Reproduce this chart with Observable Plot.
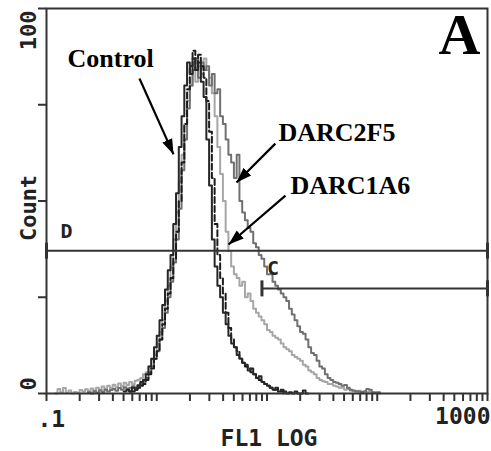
<!DOCTYPE html>
<html>
<head>
<meta charset="utf-8">
<script src="https://cdn.jsdelivr.net/npm/d3@7"></script>
<script src="https://cdn.jsdelivr.net/npm/@observablehq/plot@0.6"></script>
<style>
  html, body { margin: 0; padding: 0; background: #fff; }
</style>
</head>
<body>
<div id="chart"></div>
<script>
// FL1 histogram: 40 log channels per decade, 0.1 – 1000
const channelsPerDecade = 40;

// Control (solid black), counts from channel 28
const controlStart = 28;
const controlCounts = [
  0.5, 1, 0.5, 1.5, 1, 2, 3, 3.5, 5, 7, 9, 12, 15, 19, 23, 27, 32, 36, 44, 52,
  64, 72, 80, 86, 83, 87, 84, 86, 81, 77, 66, 54, 40, 33, 28, 25, 21, 18, 15, 13,
  12, 10, 9, 8, 7.5, 6, 6.5, 5, 4, 4.5, 3, 2.5, 2, 1.5, 1, 1.5, 0.5, 1, 0.5, 0,
  0.3, 0, 0.5, 0, 0, 0.8, 0, 0
];

// Second control (dashed black), counts from channel 30
const controlDashedStart = 30;
const controlDashedCounts = [
  0.5, 0.5, 1, 1.5, 2, 2.5, 3.5, 5, 6.5, 9, 11, 14, 18, 22, 26, 30, 35, 42, 50, 60,
  70, 79, 85, 89, 84, 88, 85, 82, 76, 68, 56, 44, 36, 30, 26, 21, 17, 14, 12, 11,
  9, 8, 7, 6.5, 5.5, 5, 4, 3.5, 3, 2.5, 2, 1.5, 1, 1, 0.5, 0.5, 0
];

// DARC2F5 (dark grey), counts from channel 15
const darc2f5Start = 15;
const darc2f5Counts = [
  0.3, 0, 0.6, 0.2, 0.8, 0.4, 1.0, 0.5, 0.9, 1.2, 0.7, 1.4, 1.0, 1.6, 1.2, 1.5, 1.9, 1.4, 2.2,
  2.5, 3, 4, 5.5, 7, 9, 11, 14, 17, 21, 25, 29, 34, 40, 48, 58, 66, 74, 80, 84,
  87, 82, 86, 84, 85, 80, 83, 78, 79, 72, 70, 66, 62, 60, 56, 62, 50, 47, 45, 43,
  42, 39, 38, 36, 35, 33, 31, 31, 29, 28, 27, 26, 25, 24, 22, 20.5, 19, 17.5, 16, 15.5,
  14, 12, 10.5, 10, 8.5, 7, 6.5, 5, 4, 3.5, 3, 2.8, 2.5, 2, 2.2, 1.5, 1, 0.8, 0.6,
  0.5, 0.4, 0.5, 1.2, 1.0, 0.3, 0.2, 0.3, 0
];

// DARC1A6 (light grey), counts from channel 3
const darc1a6Start = 3;
const darc1a6Counts = [
  0, 1.2, 0.3, 1.4, 0.2, 0.8, 0, 0.4, 0.2, 0.9, 0.5, 1.1, 0.6, 1.3, 0.8, 1.5, 1.0, 1.8,
  1.2, 2.0, 1.4, 2.3, 1.6, 2.6, 1.9, 2.8, 2.2, 3.0, 2.4, 3.3, 3.6,
  4, 5, 5.5, 7, 9, 10, 13, 16, 19, 24, 28, 33, 40, 47, 55, 62, 70, 76, 80, 84,
  81, 85, 83, 87, 84, 82, 78, 72, 64, 57, 50, 42, 37, 33, 31, 30, 28, 29, 25, 26,
  24, 22, 21, 20, 19, 18, 16.5, 16, 15, 14.5, 14, 13, 12, 11.5, 11, 10, 9.5, 9, 8.5, 7.5,
  7, 6, 5.5, 5, 4, 3.5, 3.2, 3, 2.5, 2.5, 2, 1.8, 1.5, 1.5, 1, 1.2, 0.8, 0.6,
  0.5, 0.7, 0.4, 0.5, 0.3, 0.5, 0.2, 0.3, 0
];

// Analysis gates (FL1 range and the count level they are drawn at)
const gates = [
  {name: "D", from: 0.1, to: 1000, level: 37.1},
  {name: "C", from: 9.0, to: 1000, level: 27.3}
];

// Sample labels with their pointer arrows (data coordinates)
const sampleLabels = [
  {text: "Control", x: 0.155, y: 84.7, ax1: 0.697, ay1: 81.8, ax2: 1.42, ay2: 62.1},
  {text: "DARC2F5", x: 12.7, y: 65.7, ax1: 11.9, ay1: 64.9, ax2: 5.29, ay2: 54.8},
  {text: "DARC1A6", x: 16.3, y: 51.9, ax1: 14.7, ay1: 51.4, ax2: 4.48, ay2: 38.7}
];

const panelLetter = "A";
const xTitle = "FL1 LOG";
const yTitle = "Count";
const xEndLabels = [".1", "1000"];
const yEndLabels = ["100", "0"];
const yTickValues = [0, 25, 50, 75, 100];
const xTickValues = [];
for (const decade of [0.1, 1, 10, 100]) for (let k = 1; k <= 9; ++k) xTickValues.push(+(k * decade).toPrecision(3));
xTickValues.push(1000);

function histogram(start, counts) {
  return counts.map((count, i) => ({fl1: 10 ** (-1 + (start + i) / channelsPerDecade), count}));
}

const control = histogram(controlStart, controlCounts);
const controlDashed = histogram(controlDashedStart, controlDashedCounts);
const darc2f5 = histogram(darc2f5Start, darc2f5Counts);
const darc1a6 = histogram(darc1a6Start, darc1a6Counts);

const gateEnds = gates.flatMap((g) => [{fl1: g.from, level: g.level}, {fl1: g.to, level: g.level}]);

// vertical end bar for the gate segments
const endBar = {
  draw(context, size) {
    const r = Math.sqrt(size / Math.PI);
    context.moveTo(0, -r);
    context.lineTo(0, r);
  }
};

// filled arrowhead
function solidHead(color) {
  const m = d3.create("svg:marker")
    .attr("viewBox", "-12 -5 12 10")
    .attr("refX", 0)
    .attr("refY", 0)
    .attr("markerWidth", 7)
    .attr("markerHeight", 5.83)
    .attr("orient", "auto")
    .attr("fill", color)
    .attr("stroke", "none");
  m.append("path").attr("d", "M-12,-4.2L0,0L-12,4.2Z");
  return m.node();
}

const ink = "#333";
const mono = {fontFamily: "DejaVu Sans Mono", fontWeight: "bold", fill: "#222"};
const serif = {fontFamily: "Liberation Serif, Times New Roman, serif", fontWeight: "bold", fill: "#000"};

const chart = Plot.plot({
  width: 491,
  height: 451,
  marginLeft: 46,
  marginRight: 4,
  marginTop: 8,
  marginBottom: 58,
  x: {type: "log", domain: [0.1, 1000]},
  y: {domain: [0, 100]},
  style: {background: "#fff", overflow: "visible"},
  marks: [
    Plot.line(darc1a6, {x: "fl1", y: "count", curve: "step-after", stroke: "#a6a6a6", strokeWidth: 2}),
    Plot.line(darc2f5, {x: "fl1", y: "count", curve: "step-after", stroke: "#707070", strokeWidth: 2}),
    Plot.line(controlDashed, {x: "fl1", y: "count", curve: "step-after", stroke: "#1c1c1c", strokeWidth: 2, strokeDasharray: "6,3"}),
    Plot.line(control, {x: "fl1", y: "count", curve: "step-after", stroke: "#262626", strokeWidth: 2}),

    Plot.frame({stroke: ink, strokeWidth: 2}),
    Plot.axisX({ticks: xTickValues, tickSize: 8, tickFormat: () => "", label: null, stroke: ink, strokeWidth: 2}),
    Plot.axisY({ticks: yTickValues, tickSize: 8, tickFormat: () => "", label: null, stroke: ink, strokeWidth: 2}),

    // gates
    Plot.ruleY(gates, {x1: "from", x2: "to", y: "level", stroke: ink, strokeWidth: 2}),
    Plot.dot(gateEnds, {x: "fl1", y: "level", symbol: endBar, r: 8, fill: "none", stroke: ink, strokeWidth: 3}),
    Plot.text(gates.filter((g) => g.name === "D"), {x: "from", y: "level", text: "name", textAnchor: "start", lineAnchor: "bottom", dx: 14, dy: -13, fontSize: 20, ...mono}),
    Plot.text(gates.filter((g) => g.name === "C"), {x: "from", y: "level", text: "name", textAnchor: "start", lineAnchor: "bottom", dx: 5, dy: -13, fontSize: 20, ...mono}),

    // axis labels
    Plot.text([yEndLabels[0]], {y: () => 100, frameAnchor: "left", rotate: -90, textAnchor: "end", lineAnchor: "bottom", dx: -11, dy: 2, fontSize: 22, ...mono}),
    Plot.text([yEndLabels[1]], {y: () => 0, frameAnchor: "left", rotate: -90, textAnchor: "start", lineAnchor: "bottom", dx: -11, dy: -3, fontSize: 22, ...mono}),
    Plot.text([yTitle], {frameAnchor: "left", rotate: -90, textAnchor: "middle", lineAnchor: "bottom", dx: -11, dy: 7, fontSize: 22, ...mono}),
    Plot.text([xEndLabels[0]], {x: () => 0.1, frameAnchor: "bottom", textAnchor: "start", lineAnchor: "bottom", dx: -9, dy: 33, fontSize: 23, ...mono}),
    Plot.text([xEndLabels[1]], {x: () => 1000, frameAnchor: "bottom", textAnchor: "end", lineAnchor: "bottom", dx: 3, dy: 30, fontSize: 23, ...mono}),
    Plot.text([xTitle], {frameAnchor: "bottom", textAnchor: "middle", lineAnchor: "bottom", dx: 2, dy: 52, fontSize: 23, ...mono}),

    // sample labels and arrows
    Plot.link(sampleLabels, {x1: "ax1", y1: "ay1", x2: "ax2", y2: "ay2", stroke: "#000", strokeWidth: 2.2, markerEnd: solidHead}),
    Plot.text(sampleLabels, {x: "x", y: "y", text: "text", textAnchor: "start", lineAnchor: "bottom", fontSize: 26, ...serif}),
    Plot.text([panelLetter], {frameAnchor: "top-right", textAnchor: "middle", lineAnchor: "bottom", dx: -28, dy: 45, fontSize: 58, ...serif})
  ]
});

document.getElementById("chart").appendChild(chart);
</script>
</body>
</html>
